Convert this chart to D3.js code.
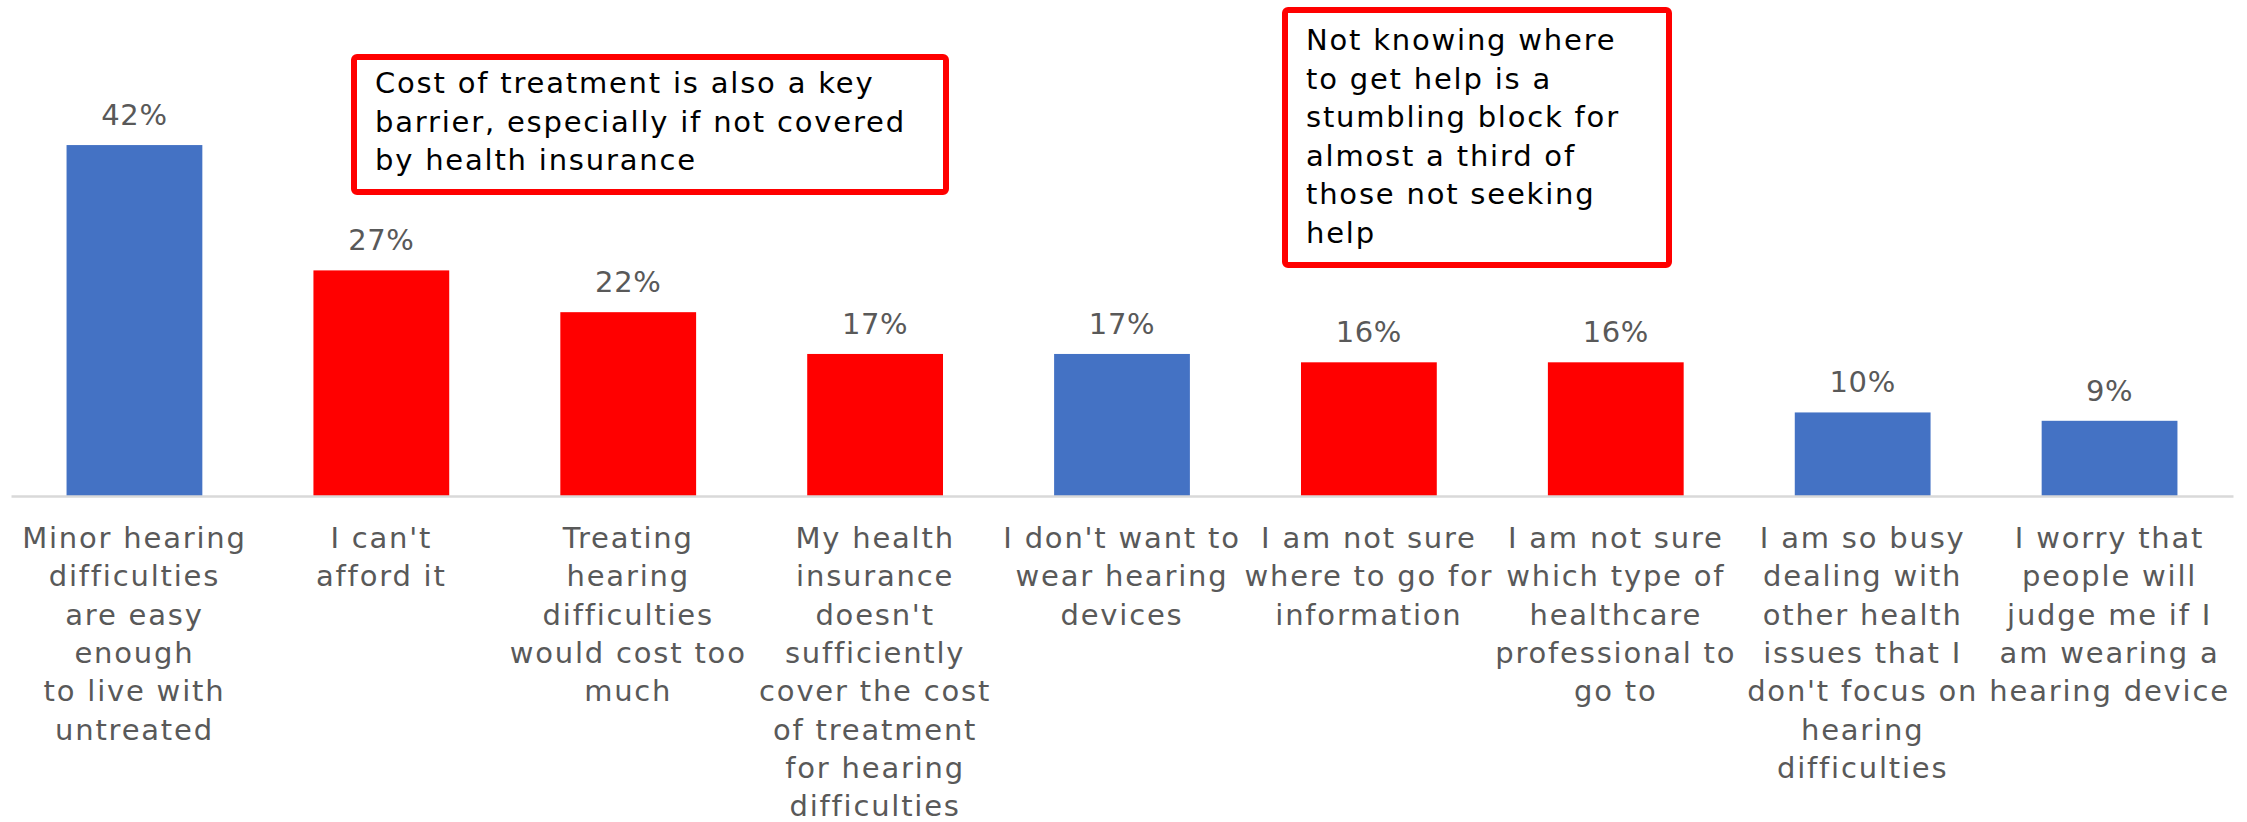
<!DOCTYPE html>
<html>
<head>
<meta charset="utf-8">
<script src="https://cdn.jsdelivr.net/npm/d3@7"></script>
<style>
  html, body { margin: 0; padding: 0; background: #ffffff; }
  svg { display: block; }
</style>
</head>
<body>
<svg id="chart" width="2247" height="822"></svg>
<script>
// Reasons for not seeking help with hearing difficulties (share of respondents)
const categories = [
  "Minor hearing\ndifficulties\nare easy\nenough\nto live with\nuntreated",
  "I can't\nafford it",
  "Treating\nhearing\ndifficulties\nwould cost too\nmuch",
  "My health\ninsurance\ndoesn't\nsufficiently\ncover the cost\nof treatment\nfor hearing\ndifficulties",
  "I don't want to\nwear hearing\ndevices",
  "I am not sure\nwhere to go for\ninformation",
  "I am not sure\nwhich type of\nhealthcare\nprofessional to\ngo to",
  "I am so busy\ndealing with\nother health\nissues that I\ndon't focus on\nhearing\ndifficulties",
  "I worry that\npeople will\njudge me if I\nam wearing a\nhearing device"
];
const values = [0.42, 0.27, 0.22, 0.17, 0.17, 0.16, 0.16, 0.10, 0.09];
// cost / access barriers are highlighted
const highlighted = [false, true, true, true, false, true, true, false, false];

const note1Lines = [
  "Cost of treatment is also a key",
  "barrier, especially if not covered",
  "by health insurance"
];
const note2Lines = [
  "Not knowing where",
  "to get help is a",
  "stumbling block for",
  "almost a third of",
  "those not seeking",
  "help"
];

const FONT = "'DejaVu Sans', sans-serif";
const FS = 29;
const LINE = 38.3;
const SPACING = 1.8;
const BLUE = "#4472C4";
const RED = "#FF0000";
const GREY_TEXT = "#595959";

const svg = d3.select("#chart");

const x = d3.scaleBand()
  .domain(d3.range(categories.length))
  .range([11, 2233])
  .paddingInner(0.45)
  .paddingOuter(0.225);

const y = d3.scaleLinear()
  .domain([0, 0.45])
  .range([496, 120]);

// bars
svg.append("g")
  .selectAll("rect")
  .data(values)
  .join("rect")
  .attr("x", (d, i) => x(i))
  .attr("y", d => y(d))
  .attr("width", x.bandwidth())
  .attr("height", d => y(0) - y(d))
  .attr("fill", (d, i) => highlighted[i] ? RED : BLUE);

// value labels
svg.append("g")
  .selectAll("text")
  .data(values)
  .join("text")
  .attr("x", (d, i) => x(i) + x.bandwidth() / 2)
  .attr("y", d => y(d) - 20)
  .attr("text-anchor", "middle")
  .attr("font-family", FONT)
  .attr("font-size", FS)
  .attr("letter-spacing", 0.6)
  .attr("fill", GREY_TEXT)
  .text(d => d3.format(".0%")(d));

// category axis
const axis = svg.append("g")
  .attr("transform", `translate(0,${y(0)})`)
  .call(d3.axisBottom(x).tickSize(0).tickSizeOuter(0).tickFormat(i => categories[i]));

axis.select(".domain")
  .attr("stroke", "#D9D9D9")
  .attr("stroke-width", 2.5);

axis.selectAll(".tick text")
  .attr("font-family", FONT)
  .attr("font-size", FS)
  .attr("letter-spacing", SPACING)
  .attr("fill", GREY_TEXT)
  .attr("dy", null)
  .each(function(i) {
    const t = d3.select(this);
    const lines = categories[i].split("\n");
    t.text(null);
    lines.forEach((ln, k) => {
      t.append("tspan")
        .attr("x", 0)
        .attr("y", 52 + k * LINE)
        .text(ln);
    });
  });

// annotation callouts
function callout(bx, by, bw, bh, lines, firstBaseline) {
  const g = svg.append("g");
  g.append("rect")
    .attr("x", bx).attr("y", by)
    .attr("width", bw).attr("height", bh)
    .attr("rx", 3)
    .attr("fill", "#ffffff")
    .attr("stroke", RED)
    .attr("stroke-width", 6);
  g.append("text")
    .attr("font-family", FONT)
    .attr("font-size", FS)
    .attr("letter-spacing", SPACING)
    .attr("fill", "#000000")
    .selectAll("tspan")
    .data(lines)
    .join("tspan")
    .attr("x", bx + 21)
    .attr("y", (d, k) => by + firstBaseline + k * 38.6)
    .text(d => d);
}

callout(354, 57, 592, 135, note1Lines, 36);
callout(1285, 10, 384, 255, note2Lines, 40);
</script>
</body>
</html>
